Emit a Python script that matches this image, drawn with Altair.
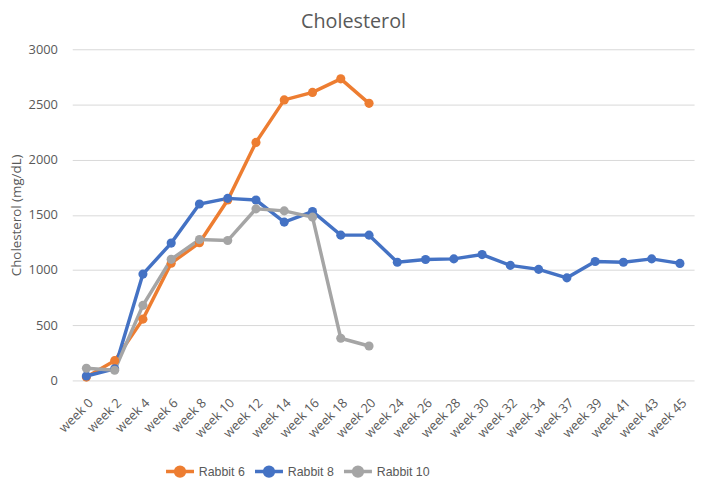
import altair as alt
import pandas as pd

weeks = ["week 0", "week 2", "week 4", "week 6", "week 8", "week 10", "week 12",
         "week 14", "week 16", "week 18", "week 20", "week 24", "week 26", "week 28",
         "week 30", "week 32", "week 34", "week 37", "week 39", "week 41", "week 43", "week 45"]

rabbit6 = [30, 179, 555, 1062, 1247, 1634, 2156, 2541, 2609, 2732, 2510]
rabbit8 = [40, 105, 963, 1244, 1598, 1649, 1634, 1434, 1530, 1316, 1316,
           1071, 1095, 1101, 1140, 1042, 1006, 929, 1077, 1071, 1101, 1060]
rabbit10 = [110, 92, 680, 1097, 1276, 1267, 1554, 1536, 1479, 382, 312]

series_names = ["Rabbit 6", "Rabbit 8", "Rabbit 10"]
series_colors = ["#ED7D31", "#4472C4", "#A5A5A5"]

rows = []
for name, vals in zip(series_names, [rabbit6, rabbit8, rabbit10]):
    for w, v in zip(weeks, vals):
        rows.append({"week": w, "value": v, "series": name})
df = pd.DataFrame(rows)

FONT = "Open Sans"
GRAY = "#595959"

legend_path = ("M-1,0H1M-0.32,0a0.32,0.32 0 1,0 0.64,0a0.32,0.32 0 1,0 -0.64,0")

chart = alt.Chart(df).mark_line(
    strokeWidth=3.5,
    point=alt.OverlayMarkDef(filled=True, size=85, opacity=1),
).encode(
    x=alt.X("week:N", sort=weeks, title=None,
            scale=alt.Scale(paddingOuter=0.5),
            axis=alt.Axis(labelAngle=-45, labelFontSize=13, labelColor=GRAY, labelFont=FONT,
                          ticks=False, domain=False, grid=False, labelPadding=16)),
    y=alt.Y("value:Q", title="Cholesterol (mg/dL)",
            scale=alt.Scale(domain=[0, 3000], nice=False),
            axis=alt.Axis(values=[0, 500, 1000, 1500, 2000, 2500, 3000], format="d",
                          ticks=False, domain=False,
                          gridColor="#D9D9D9", gridWidth=1, labelFontSize=13, labelColor=GRAY,
                          labelFont=FONT, labelPadding=15, titleFontSize=13.5, titleColor=GRAY,
                          titleFont=FONT, titleFontWeight="normal", titlePadding=5)),
    color=alt.Color("series:N", sort=series_names,
                    scale=alt.Scale(domain=series_names, range=series_colors),
                    legend=alt.Legend(orient="none", legendX=93, legendY=411, direction="horizontal",
                                      title=None, symbolType=legend_path, symbolSize=800,
                                      symbolStrokeWidth=3.5, labelFontSize=12.5, labelColor=GRAY,
                                      labelFont="Liberation Sans", columnPadding=2, labelOffset=3)),
).properties(
    width=629, height=335,
    title=alt.TitleParams("Cholesterol", fontSize=20, color=GRAY, font=FONT,
                          fontWeight="normal", anchor="middle", offset=11, dx=-30),
    autosize=alt.AutoSizeParams(type="none"),
    padding={"left": 65, "top": 39, "right": 7, "bottom": 97},
).configure_view(stroke=None)

chart.save("out.html", embed_options={"renderer": "svg", "actions": False})
